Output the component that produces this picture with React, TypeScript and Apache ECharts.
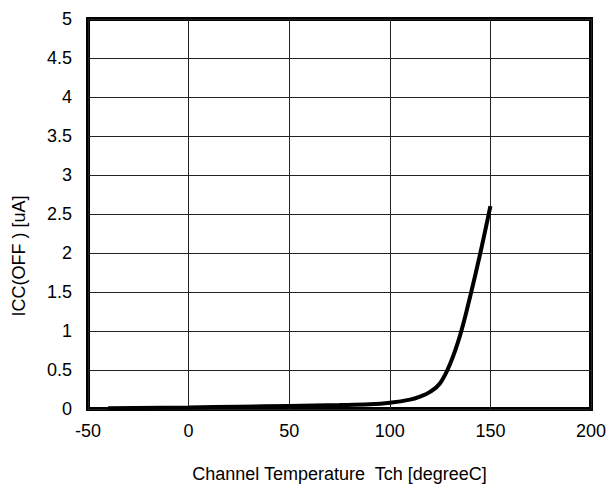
import React, { useEffect, useRef } from "react";
import * as echarts from "echarts";

const temps = [-40, 0, 25, 50, 75, 90, 100, 110, 115, 120, 125, 130, 135, 140, 145, 150];
const iccOff = [0.01, 0.02, 0.03, 0.04, 0.05, 0.06, 0.08, 0.12, 0.16, 0.22, 0.33, 0.58, 0.95, 1.45, 2.0, 2.6];
const xTitle = "Channel Temperature  Tch [degreeC]";
const yTitle = "ICC(OFF ) [uA]";

const FONT = "Liberation Sans, Arial, sans-serif";

export default function App() {
  const ref = useRef<HTMLDivElement>(null);
  useEffect(() => {
    if (!ref.current) return;
    const chart = echarts.init(ref.current, null, { renderer: "svg" });
    chart.setOption({
      animation: false,
      backgroundColor: "#fff",
      grid: {
        left: 88,
        right: 20,
        top: 19,
        bottom: 74,
        show: true,
        borderColor: "#000",
        borderWidth: 4,
      },
      xAxis: {
        type: "value",
        min: -50,
        max: 200,
        interval: 50,
        axisLine: { show: false },
        axisTick: { show: false },
        splitLine: { show: true, lineStyle: { color: "#222", width: 1 } },
        axisLabel: { color: "#000", fontSize: 18, fontFamily: FONT, margin: 13 },
        name: xTitle,
        nameLocation: "middle",
        nameGap: 56,
        nameTextStyle: { color: "#000", fontSize: 18, fontFamily: FONT },
      },
      yAxis: {
        type: "value",
        min: 0,
        max: 5,
        interval: 0.5,
        axisLine: { show: false },
        axisTick: { show: false },
        splitLine: { show: true, lineStyle: { color: "#222", width: 1 } },
        axisLabel: { color: "#000", fontSize: 18, fontFamily: FONT, margin: 16 },
      },
      graphic: [
        {
          type: "text",
          x: 19,
          y: 256,
          rotation: Math.PI / 2,
          style: {
            text: yTitle,
            fill: "#000",
            font: `18px ${FONT}`,
            align: "center",
            verticalAlign: "middle",
          },
        },
      ],
      series: [
        {
          type: "line",
          data: temps.map((t, i) => [t, iccOff[i]]),
          smooth: 0.4,
          showSymbol: false,
          symbol: "none",
          lineStyle: { color: "#000", width: 4 },
        },
      ],
    });
    return () => chart.dispose();
  }, []);
  return (
    <div
      ref={ref}
      style={{ position: "fixed", left: 0, top: 0, width: 611, height: 488 }}
    />
  );
}
